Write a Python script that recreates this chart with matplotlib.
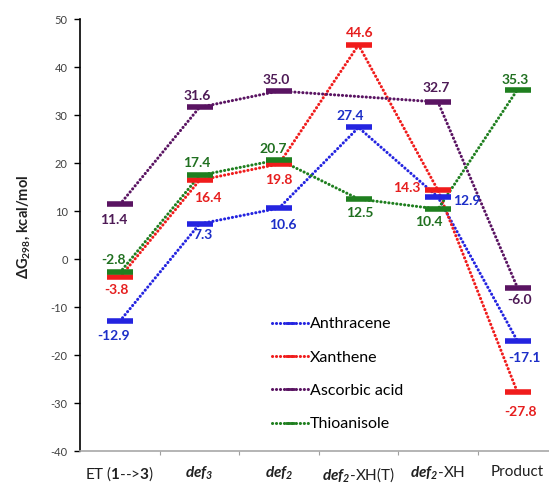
import numpy as np
import matplotlib
matplotlib.use("Agg")
import matplotlib.pyplot as plt
from matplotlib.lines import Line2D

plt.rcParams['font.family'] = ['Lato', 'DejaVu Sans']
plt.rcParams['mathtext.fontset'] = 'custom'
plt.rcParams['mathtext.rm'] = 'Lato'
plt.rcParams['mathtext.it'] = 'Lato:italic'
plt.rcParams['mathtext.bf'] = 'Lato:bold'
plt.rcParams['mathtext.bfit'] = 'Lato:bold:italic'
plt.rcParams['axes.unicode_minus'] = False

# data
steps = [r"ET ($\mathbf{1}$-->$\mathbf{3}$)",
         r"$\mathbfit{def}_{\mathbfit{3}}$",
         r"$\mathbfit{def}_{\mathbfit{2}}$",
         r"$\mathbfit{def}_{\mathbfit{2}}$-XH(T)",
         r"$\mathbfit{def}_{\mathbfit{2}}$-XH",
         "Product"]
anthracene = [-12.9, 7.3, 10.6, 27.4, 12.9, -17.1]
xanthene = [-3.8, 16.4, 19.8, 44.6, 14.3, -27.8]
ascorbic = [11.4, 31.6, 35.0, None, 32.7, -6.0]
thioanisole = [-2.8, 17.4, 20.7, 12.5, 10.4, 35.3]
names = ["Anthracene", "Xanthene", "Ascorbic acid", "Thioanisole"]

# styling
line_cols = ['#2424e0', '#f01c1c', '#5a1462', '#1f7f1f']
text_cols = ['#1c2ec8', '#e61e1e', '#4e1a56', '#207020']
dots = (0, (0.05, 1.25))
# label offsets in pixels (dx, dy) per series / step
offsets = [
    [(-6, -15), (3, -11), (4, -17), (-8, 11), (29, -4), (7, -17)],
    [(-4, -13), (8, -18), (0, -16), (1, 12), (-31, 2), (3, -20)],
    [(-6, -16), (-2, 11), (-3, 11), None, (-2, 14), (2, -12)],
    [(-6, 12), (-3, 12), (-6, 11), (1, -14), (-9, -13), (-2, 10)],
]

fig = plt.figure(figsize=(5.49, 4.83), dpi=100)
ax = fig.add_axes([80.25 / 549, 1 - 451 / 483, 477 / 549, 432 / 483])

xs = np.arange(len(steps)) + 0.5
series = [anthracene, xanthene, ascorbic, thioanisole]
handles = []
for vals, lc, tc, offs, nm in zip(series, line_cols, text_cols, offsets, names):
    ok = np.array([v is not None for v in vals])
    y = np.array([np.nan if v is None else v for v in vals], dtype=float)
    ax.plot(xs[ok], y[ok], ls=dots, lw=2.2, color=lc, dash_capstyle='round', zorder=2)
    ax.plot(xs[ok], y[ok], ls='none', marker='_', ms=19, mew=4, color=lc, zorder=3)
    for x, v, o in zip(xs, vals, offs):
        if v is None:
            continue
        ax.annotate(f"{v:.1f}", (x, v), xytext=o, textcoords='offset pixels',
                    ha='center', va='center', fontsize=10, fontweight='bold',
                    color=tc, zorder=4)
    handles.append(Line2D([], [], ls=dots, lw=2.2, color=lc, dash_capstyle='round',
                          marker='_', ms=7, mew=2))

ax.set_xlim(0, len(steps))
ax.set_ylim(-40, 50)
ax.set_yticks(np.arange(-40, 51, 10))
ax.set_xticks(np.arange(1, len(steps)))
ax.set_xticklabels([])
ax.set_xticks(xs, minor=True)
ax.set_xticklabels(steps, minor=True, fontsize=11, color='#202020')
ax.tick_params(axis='x', which='minor', length=0, pad=10)
ax.tick_params(axis='x', which='major', length=3, color='#a0a0a0', direction='out')
ax.tick_params(axis='y', length=4, width=1, color='#000000', labelsize=8,
               labelcolor='#404040', pad=5)

for s in ['top', 'right']:
    ax.spines[s].set_visible(False)
ax.spines['bottom'].set_color('#a8a8a8')
ax.spines['bottom'].set_linewidth(1.2)
ax.spines['left'].set_color('#000000')
ax.spines['left'].set_linewidth(1.2)

fig.text(24 / 549, 1 - 227 / 483, r"ΔG$_{\mathbf{298}}$, kcal/mol", rotation=90,
         ha='center', va='center', fontsize=10.5, fontweight='bold', color='#202020')

leg = ax.legend(handles, names, loc='upper left',
                bbox_to_anchor=(268 / 549, 1 - 317 / 483),
                bbox_transform=fig.transFigure, frameon=False, fontsize=11.5,
                handlelength=2.2, handletextpad=0.15, labelspacing=1.2,
                borderpad=0, borderaxespad=0)

# nudge the legend so its text starts where the reference text starts
fig.canvas.draw()
x0 = leg.get_texts()[0].get_window_extent().x0
shift = (310 - x0) / 549
leg.set_bbox_to_anchor((268 / 549 + shift, 1 - 317 / 483), transform=fig.transFigure)

fig.savefig("out.png", dpi=100)
